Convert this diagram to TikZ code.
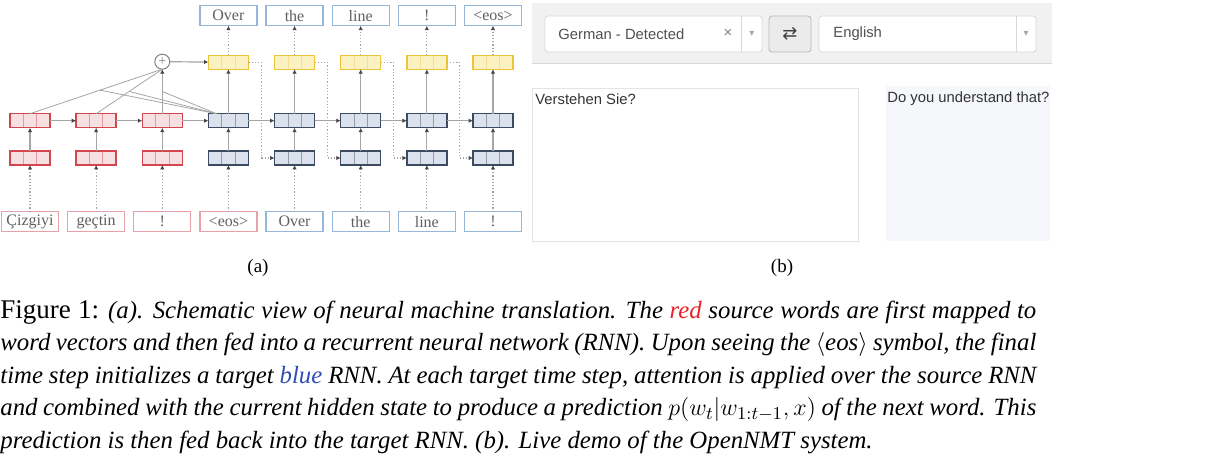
\documentclass[tikz,border=0pt]{standalone}
\usepackage{fontspec}
\setmainfont{Liberation Serif}
\newfontfamily\uifont{Liberation Sans}
\newfontfamily\symfont{DejaVu Sans}
\usetikzlibrary{arrows.meta, positioning}

\definecolor{srcline}{RGB}{210,70,80}
\definecolor{srcfill}{RGB}{246,224,226}
\definecolor{tgtline}{RGB}{60,74,98}
\definecolor{tgtfill}{RGB}{220,226,237}
\definecolor{predline}{RGB}{238,196,60}
\definecolor{predfill}{RGB}{252,241,192}
\definecolor{srcword}{RGB}{232,160,170}
\definecolor{tgtword}{RGB}{150,184,214}
\definecolor{wordtext}{RGB}{95,95,95}
\definecolor{linegray}{RGB}{165,165,165}
\definecolor{tipgray}{RGB}{70,70,70}
\definecolor{barfill}{RGB}{241,241,241}
\definecolor{uiborder}{RGB}{216,216,216}
\definecolor{uitext}{RGB}{80,80,80}
\definecolor{panelfill}{RGB}{245,247,250}
\definecolor{capred}{RGB}{232,32,40}
\definecolor{capblue}{RGB}{48,78,178}

\begin{document}
\begin{tikzpicture}[x=0.5pt, y=-0.5pt, node distance=11.65pt and 13.07pt,
  every node/.style={font=\fontsize{8}{9}\selectfont},
  cell/.style={rectangle, draw=#1, line width=0.7pt, minimum width=20pt, minimum height=7pt,
    inner sep=0pt, outer sep=0pt,
    path picture={\draw[#1!55!white, line width=0.4pt]
      ([xshift=-3.33pt]path picture bounding box.south) -- ([xshift=-3.33pt]path picture bounding box.north)
      ([xshift=3.33pt]path picture bounding box.south) -- ([xshift=3.33pt]path picture bounding box.north);}},
  src/.style={cell=srcline, fill=srcfill},
  tgt/.style={cell=tgtline, fill=tgtfill},
  pred/.style={cell=predline, fill=predfill},
  word/.style={rectangle, draw=#1, line width=0.6pt, minimum width=28.5pt, minimum height=10pt,
    inner sep=0pt, outer sep=0pt, text=wordtext},
  plus/.style={circle, draw=gray, fill=white, minimum size=7.5pt, inner sep=0pt, outer sep=0pt,
    line width=0.5pt, text=gray, font=\fontsize{7}{8}\selectfont},
  arrow/.style={draw=linegray, line width=0.6pt, -{Latex[length=2.2pt, width=2.2pt, color=tipgray]}},
  dotarrow/.style={arrow, densely dotted},
  attn/.style={draw=linegray, line width=0.4pt},
  ui/.style={font=\uifont\fontsize{7.4}{9}\selectfont, text=uitext, inner sep=0pt}]

\useasboundingbox (0,0) rectangle (1227,471);

% word embeddings
\node[src] (es1) at (30,158) {};
\node[src, right=of es1] (es2) {};
\node[src, right=of es2] (es3) {};
\node[tgt, right=of es3] (et1) {};
\node[tgt, right=of et1] (et2) {};
\node[tgt, right=of et2] (et3) {};
\node[tgt, right=of et3] (et4) {};
\node[tgt, right=of et4] (et5) {};

% recurrent states
\node[src, above=of es1] (hs1) {};
\node[src, above=of es2] (hs2) {};
\node[src, above=of es3] (hs3) {};
\node[tgt, above=of et1] (ht1) {};
\node[tgt, above=of et2] (ht2) {};
\node[tgt, above=of et3] (ht3) {};
\node[tgt, above=of et4] (ht4) {};
\node[tgt, above=of et5] (ht5) {};

% attention and prediction
\node[plus, above=22.25pt of hs3] (att) {+};
\node[pred, above=22.25pt of ht1] (o1) {};
\node[pred, above=22.25pt of ht2] (o2) {};
\node[pred, above=22.25pt of ht3] (o3) {};
\node[pred, above=22.25pt of ht4] (o4) {};
\node[pred, above=22.25pt of ht5] (o5) {};

% input words
\node[word=srcword, below=23.35pt of es1] (x1) {Çizgiyi};
\node[word=srcword, below=23.35pt of es2] (x2) {geçtin};
\node[word=srcword, below=23.35pt of es3] (x3) {!};
\node[word=srcword, below=23.35pt of et1] (x4) {<eos>};
\node[word=tgtword, below=23.35pt of et2] (y1) {Over};
\node[word=tgtword, below=23.35pt of et3] (y2) {the};
\node[word=tgtword, below=23.35pt of et4] (y3) {line};
\node[word=tgtword, below=23.35pt of et5] (y4) {!};

% output words
\node[word=tgtword, above=14.75pt of o1] (p1) {Over};
\node[word=tgtword, above=14.75pt of o2] (p2) {the};
\node[word=tgtword, above=14.75pt of o3] (p3) {line};
\node[word=tgtword, above=14.75pt of o4] (p4) {!};
\node[word=tgtword, above=14.75pt of o5] (p5) {<eos>};

% connectors
\foreach \a/\b in {x1/es1, x2/es2, x3/es3, x4/et1, y1/et2, y2/et3, y3/et4, y4/et5,
                   o1/p1, o2/p2, o3/p3, o4/p4, o5/p5}
  \draw[dotarrow] (\a) -- (\b);
\foreach \a/\b in {es1/hs1, es2/hs2, es3/hs3, et1/ht1, et2/ht2, et3/ht3, et4/ht4, et5/ht5,
                   hs1/hs2, hs2/hs3, hs3/ht1, ht1/ht2, ht2/ht3, ht3/ht4, ht4/ht5,
                   ht1/o1, ht2/o2, ht3/o3, ht4/o4, ht5/o5, att/o1}
  \draw[arrow] (\a) -- (\b);
\foreach \a/\b in {o1/et2, o2/et3, o3/et4, o4/et5}
  \draw[dotarrow] (\a.east) -- ++(6.4pt,0) |- (\b.west);

% attention over the source states
\draw[attn] (hs1.north) -- coordinate[pos=0.53] (a1) (att.south);
\draw[attn] (hs2.north) -- coordinate[pos=0.5] (a2) (att.south);
\draw[arrow] (hs3.north) -- coordinate[pos=0.5] (a3) (att.south);
\foreach \c in {a1, a2, a3}
  \draw[attn] ([xshift=4pt]ht1.north west) -- (\c);

% demo screenshot
\fill[barfill] (532,3) rectangle (1052,63);
\draw[uiborder] (532,63) -- (1052,63);
\draw[uiborder, fill=white, rounded corners=1.5pt] (545,16) rectangle (762,52);
\draw[uiborder] (741,16) -- (741,52);
\node[ui, anchor=west] (srclang) at (558,34) {German - Detected};
\node[ui, text=gray] (clear) at (728,33) {×};
\node[ui, font=\symfont\fontsize{5}{6}\selectfont, text=gray!70] (srcmenu) at (752,34) {▾};
\draw[uiborder!85!black, fill=gray!16, rounded corners=1.5pt] (769,16) rectangle (811,52);
\node[ui, font=\symfont\fontsize{9}{10}\selectfont, text=black!75] (swap) at (790,34) {⇄};
\draw[uiborder, fill=white, rounded corners=1.5pt] (819,16) rectangle (1036,52);
\draw[uiborder] (1016,16) -- (1016,52);
\node[ui, anchor=west] (tgtlang) at (833,34) {English};
\node[ui, font=\symfont\fontsize{5}{6}\selectfont, text=gray!70] (tgtmenu) at (1026,34) {▾};
\draw[uiborder!70!white, fill=white] (532,88) rectangle (858,241);
\fill[panelfill] (886,86) rectangle (1050,241);
\node[ui, anchor=north west, text=black!80] (srctext) at (535,93) {Verstehen Sie?};
\node[ui, anchor=north west, text=black!80] (tgttext) at (887,91) {Do you understand that?};

% sub-captions and caption
\node[font=\fontsize{9.5}{11}\selectfont] (suba) at (258,268) {(a)};
\node[font=\fontsize{9.5}{11}\selectfont] (subb) at (782,268) {(b)};
\node[anchor=base west, inner sep=0pt, text width=518pt, align=justify,
  font=\fontsize{12.4}{16.25}\selectfont] (caption) at (0,318)
  {{\fontsize{13.5}{16.25}\selectfont Figure 1:} \textit{(a). Schematic view of neural machine
  translation. The \textcolor{capred}{red} source words are first mapped to\linebreak
  word vectors and then fed into a recurrent neural network (RNN). Upon seeing the
  $\langle$eos$\rangle$ symbol, the final\linebreak
  time step initializes a target \textcolor{capblue}{blue} RNN. At each target time step,
  attention is applied over the source RNN\linebreak
  and combined with the current hidden state to produce a prediction
  $p(w_t|w_{1:t-1},x)$ of the next word. This\linebreak
  prediction is then fed back into the target RNN. (b). Live demo of the OpenNMT system.}};

\end{tikzpicture}
\end{document}
